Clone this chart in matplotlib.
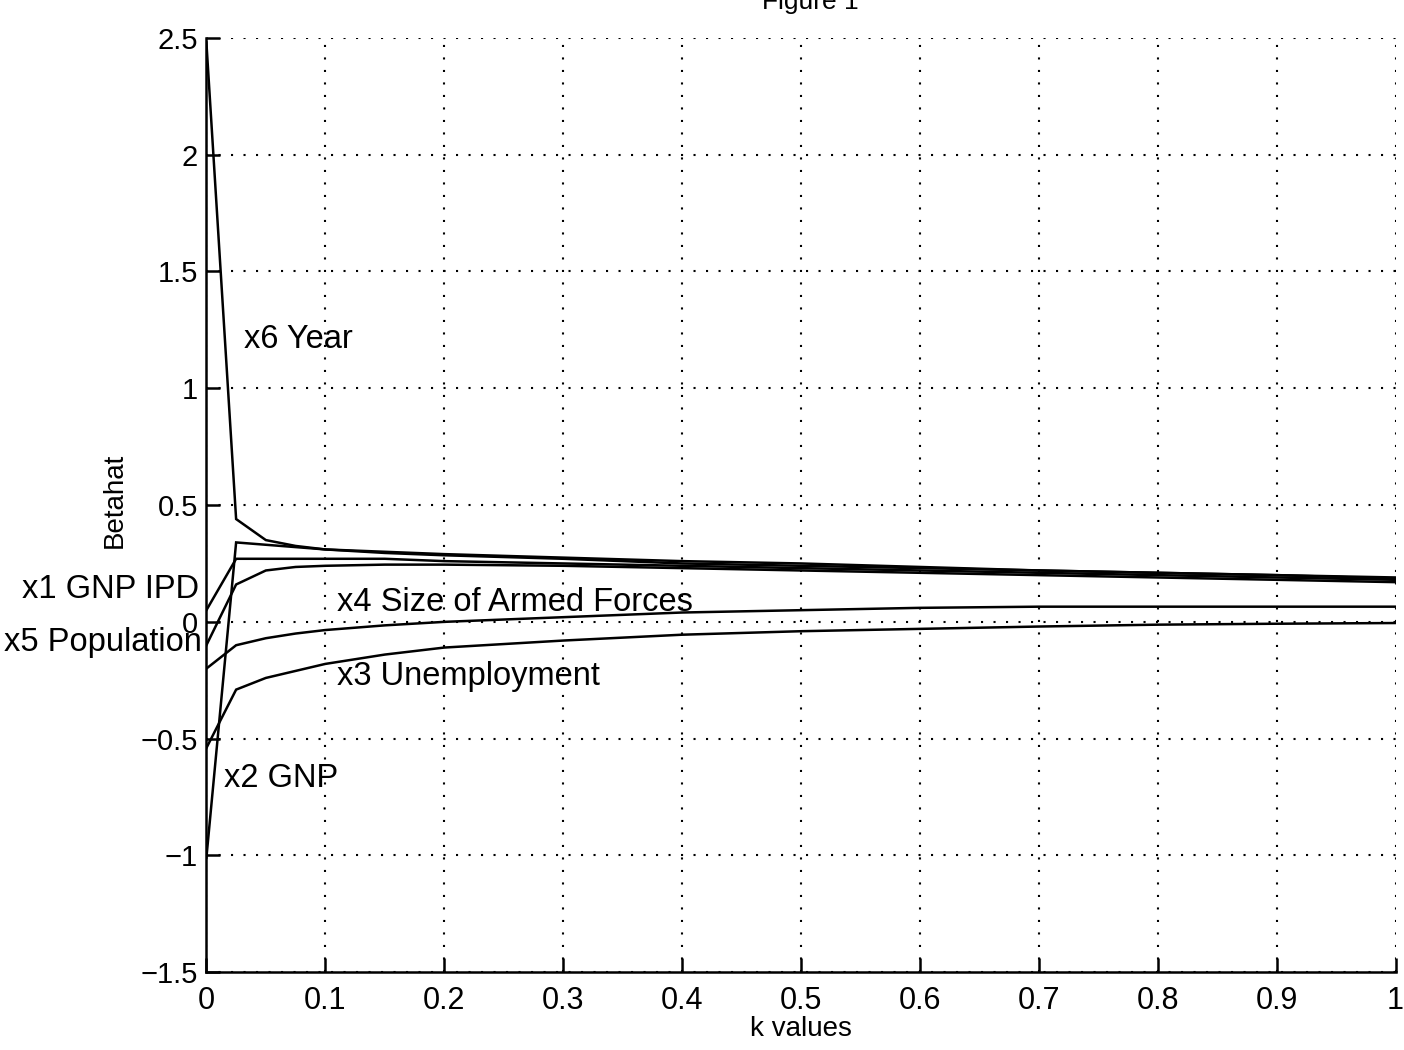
import matplotlib
matplotlib.use("Agg")
import matplotlib.pyplot as plt

plt.rcParams['font.family'] = ['Liberation Sans', 'DejaVu Sans']

# ridge parameter values
k = [0, 0.025, 0.05, 0.075, 0.1, 0.15, 0.2, 0.3, 0.4, 0.5, 0.6, 0.7, 0.8, 0.9, 1.0]

# standardized coefficient traces
x1_gnp_ipd = [0.05, 0.27, 0.27, 0.27, 0.27, 0.27, 0.26, 0.25, 0.24, 0.23, 0.22, 0.21, 0.20, 0.19, 0.18]
x2_gnp = [-1.01, 0.34, 0.33, 0.32, 0.31, 0.295, 0.285, 0.27, 0.25, 0.24, 0.23, 0.22, 0.21, 0.20, 0.185]
x3_unemp = [-0.54, -0.29, -0.24, -0.21, -0.18, -0.14, -0.11, -0.08, -0.055, -0.04, -0.03, -0.02, -0.012, -0.008, -0.005]
x4_armed = [-0.20, -0.10, -0.07, -0.05, -0.035, -0.015, 0.0, 0.02, 0.04, 0.05, 0.06, 0.065, 0.065, 0.065, 0.065]
x5_pop = [-0.10, 0.16, 0.22, 0.235, 0.24, 0.245, 0.245, 0.24, 0.23, 0.22, 0.21, 0.20, 0.19, 0.18, 0.17]
x6_year = [2.48, 0.44, 0.35, 0.325, 0.31, 0.30, 0.29, 0.275, 0.26, 0.25, 0.235, 0.22, 0.21, 0.20, 0.19]

series = [x1_gnp_ipd, x2_gnp, x3_unemp, x4_armed, x5_pop, x6_year]

xticks = [0, 0.1, 0.2, 0.3, 0.4, 0.5, 0.6, 0.7, 0.8, 0.9, 1]
xticklabels = ['0', '0.1', '0.2', '0.3', '0.4', '0.5', '0.6', '0.7', '0.8', '0.9', '1']
yticks = [-1.5, -1, -0.5, 0, 0.5, 1, 1.5, 2, 2.5]
yticklabels = ['\u22121.5', '\u22121', '\u22120.5', '0', '0.5', '1', '1.5', '2', '2.5']

labels = [
    ('x6 Year', 0.032, 1.21, 'left'),
    ('x1 GNP IPD', -0.006, 0.14, 'right'),
    ('x5 Population', -0.004, -0.09, 'right'),
    ('x4 Size of Armed Forces', 0.11, 0.085, 'left'),
    ('x3 Unemployment', 0.11, -0.235, 'left'),
    ('x2 GNP', 0.015, -0.67, 'left'),
]

fig = plt.figure(figsize=(14.04, 10.5), dpi=100)
ax = fig.add_axes([0.147, 0.074, 0.847, 0.89])

for s in series:
    ax.plot(k, s, color='black', lw=1.8, solid_joinstyle='miter')

ax.set_xlim(0, 1)
ax.set_ylim(-1.5, 2.5)
ax.set_xticks(xticks)
ax.set_xticklabels(xticklabels)
ax.set_yticks(yticks)
ax.set_yticklabels(yticklabels)

ax.grid(True, color='black', linestyle=(0, (1, 5)), lw=1.5)
ax.spines['top'].set_visible(False)
ax.spines['right'].set_visible(False)
ax.spines['left'].set_linewidth(1.8)
ax.spines['bottom'].set_linewidth(1.8)
ax.tick_params(direction='in', length=10, width=1.8, labelsize=21, pad=6)
ax.tick_params(axis='x', pad=10, labelsize=22)

ax.set_xlabel('k values', fontsize=20, labelpad=0)
ax.set_ylabel('Betahat', fontsize=20)
ax.yaxis.set_label_coords(-0.066, 0.505)

for text, x, y, ha in labels:
    ax.text(x, y, text, fontsize=23.5, ha=ha, va='center', clip_on=False)

fig.text(0.577, 0.998, 'Figure 1', fontsize=19, ha='center', va='center')

fig.savefig('out.png', dpi=100)
